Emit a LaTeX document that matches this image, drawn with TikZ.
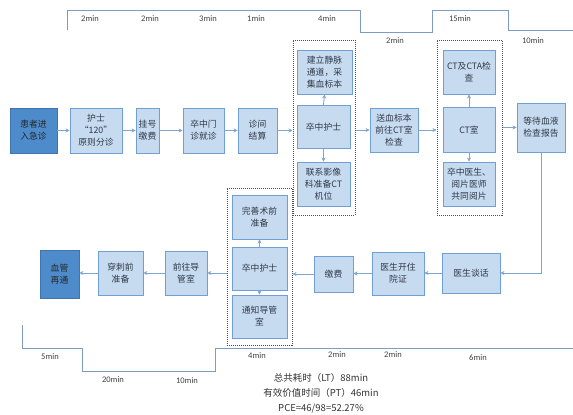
\documentclass[tikz,border=0pt]{standalone}
\usepackage{fontspec}
\setmainfont{Noto Sans CJK SC}
\newfontfamily\latinfont{Carlito}
\usetikzlibrary{arrows.meta}
\definecolor{lfill}{HTML}{C6DAF0}
\definecolor{lborder}{HTML}{6F9FD4}
\definecolor{dfill}{HTML}{4E8BCB}
\definecolor{dborder}{HTML}{3F74AE}
\definecolor{arrowc}{HTML}{7FA5CF}
\definecolor{timec}{HTML}{7F9CC0}
\definecolor{txtc}{HTML}{303A48}
\tikzset{
  lbox/.style={draw=lborder, fill=lfill, line width=0.9pt, inner sep=1pt, align=center,
    font=\fontsize{8.8}{12}\selectfont, text=txtc},
  dbox/.style={lbox, draw=dborder, fill=dfill, text=black!85},
  dotbox/.style={draw=black!70, densely dotted, line width=1pt, inner sep=0pt},
  flow/.style={draw=arrowc, line width=0.9pt, -{Stealth[length=4pt,width=4pt]}},
  timeline/.style={draw=timec, line width=1pt},
  tlabel/.style={font=\latinfont\fontsize{8.5}{10}\selectfont, text=black!75},
  wh/.style 2 args={minimum width=#1pt, minimum height=#2pt}
}
\begin{document}
\begin{tikzpicture}[x=1pt,y=-1pt]
\useasboundingbox (0,0) rectangle (573,415);
% timelines
\draw[timeline] (67,30) -- (67,10) -- (360,10) -- (360,32) -- (432,32) -- (432,10) -- (508,10) -- (508,30) -- (573,30);
\draw[timeline] (22,325) -- (22,348) -- (82,348) -- (82,371) -- (215,371) -- (215,348) -- (573,348);
% top labels
\node[tlabel] (t1) at (90,19) {2min};
\node[tlabel] (t2) at (150,19) {2min};
\node[tlabel] (t3) at (208,19) {3min};
\node[tlabel] (t4) at (256,19) {1min};
\node[tlabel] (t5) at (327,19) {4min};
\node[tlabel] (t6) at (395,41) {2min};
\node[tlabel] (t7) at (460,19) {15min};
\node[tlabel] (t8) at (533,41) {10min};
% bottom labels
\node[tlabel] (b1l) at (50,357) {5min};
\node[tlabel] (b2l) at (113,380) {20min};
\node[tlabel] (b3l) at (187,381) {10min};
\node[tlabel] (b4l) at (257,356) {4min};
\node[tlabel] (b5l) at (337,355) {2min};
\node[tlabel] (b6l) at (393,355) {2min};
\node[tlabel] (b7l) at (478,358) {6min};
% summary
\node[align=center, font=\fontsize{9.5}{15}\selectfont, text=black!80] (sum) at (321,393)
  {总共耗时（LT）88min\\有效价值时间（PT）46min\\PCE=46/98=52.27\%};
% dotted groups
\node[dotbox, wh={62}{175}] (d1) at (324,127.5) {};
\node[dotbox, wh={65}{175}] (d2) at (469.5,127.5) {};
\node[dotbox, wh={65}{157}] (d3) at (259.5,266.5) {};
% top row
\node[dbox, wh={47}{45}] (n1) at (33.5,130.5) {患者进\\入急诊};
\node[lbox, wh={52}{45}] (n2) at (96,130.5) {护士\\“120”\\原则分诊};
\node[lbox, wh={23}{45}] (n3) at (147.5,130.5) {挂号\\缴费};
\node[lbox, wh={41}{45}] (n4) at (203.5,130.5) {卒中门\\诊就诊};
\node[lbox, wh={39}{45}] (n5) at (257.5,130.5) {诊间\\结算};
\node[lbox, wh={55}{44}] (a1) at (324.5,72) {建立静脉\\通道，采\\集血标本};
\node[lbox, wh={53}{43}] (a2) at (323.5,127) {卒中护士};
\node[lbox, wh={53}{44}] (a3) at (323.5,184) {联系影像\\科准备CT\\机位};
\node[lbox, wh={48}{44}] (n6) at (394,130) {送血标本\\前往CT室\\检查};
\node[lbox, wh={52}{44}] (c1b) at (469,72) {CT及CTA检\\查};
\node[lbox, wh={52}{45}] (c2b) at (469,129.5) {CT室};
\node[lbox, wh={52}{44}] (c3b) at (469,184) {卒中医生、\\阅片医师\\共同阅片};
\node[lbox, wh={48}{49}] (n7) at (541,127.5) {等待血液\\检查报告};
% bottom row
\node[lbox, wh={58}{40}] (m1) at (471,273) {医生谈话};
\node[lbox, wh={52}{43}] (m2) at (398,273.5) {医生开住\\院证};
\node[lbox, wh={39}{36}] (m3) at (333.5,274) {缴费};
\node[lbox, wh={55}{44}] (e1) at (259.5,217) {完善术前\\准备};
\node[lbox, wh={55}{43}] (e2) at (259.5,268.5) {卒中护士};
\node[lbox, wh={55}{43}] (e3) at (259.5,316.5) {通知导管\\室};
\node[lbox, wh={42}{44}] (m4) at (186,273) {前往导\\管室};
\node[lbox, wh={45}{44}] (m5) at (120.5,273) {穿刺前\\准备};
\node[dbox, wh={39}{48}] (m6) at (59.5,274) {血管\\再通};
% arrows top row
\draw[flow] (n1.east) -- (n1.east -| n2.west);
\draw[flow] (n2.east) -- (n2.east -| n3.west);
\draw[flow] (n3.east) -- (n3.east -| n4.west);
\draw[flow] (n4.east) -- (n4.east -| n5.west);
\draw[flow] (n5.east) -- (n5.east -| d1.west);
\draw[flow] (n6.west -| d1.east) -- (n6.west);
\draw[flow] (n6.east) -- (n6.east -| d2.west);
\draw[flow] (n7.west -| d2.east) -- (n7.west);
\draw[flow] (a2.north) -- (a1.south);
\draw[flow] (a2.south) -- (a3.north);
\draw[flow] (c2b.north) -- (c1b.south);
\draw[flow] (c2b.south) -- (c3b.north);
\draw[flow] (n7.south) -- (n7.south |- m1.east) -- (m1.east);
% arrows bottom row
\draw[flow] (m1.west) -- (m1.west -| m2.east);
\draw[flow] (m2.west) -- (m2.west -| m3.east);
\draw[flow] (m3.west) -- (m3.west -| d3.east);
\draw[flow] (m4.east -| d3.west) -- (m4.east);
\draw[flow] (m4.west) -- (m4.west -| m5.east);
\draw[flow] (m5.west) -- (m5.west -| m6.east);
\draw[flow] (e2.north) -- (e1.south);
\draw[flow] (e2.south) -- (e3.north);
\end{tikzpicture}
\end{document}
